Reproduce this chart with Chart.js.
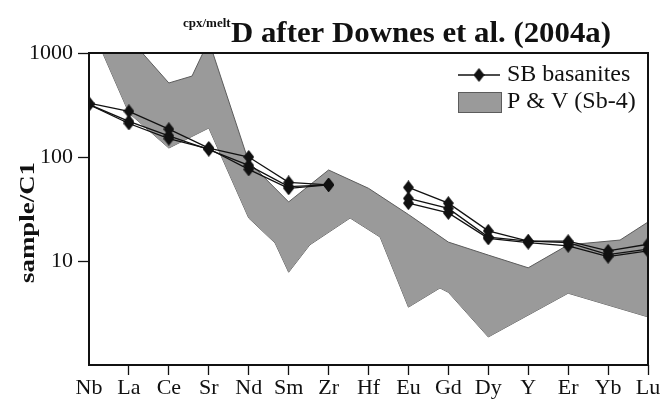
<!DOCTYPE html>
<html>
<head>
<meta charset="utf-8">
<script src="https://cdn.jsdelivr.net/npm/chart.js@4.4.1/dist/chart.umd.min.js"></script>
<style>
  html, body { margin: 0; padding: 0; background: #fff; }
  #wrap { width: 664px; height: 403px; }
</style>
</head>
<body>
<div id="wrap"><canvas id="spider"></canvas></div>
<script>
let elements = ['Nb', 'La', 'Ce', 'Sr', 'Nd', 'Sm', 'Zr', 'Hf', 'Eu', 'Gd', 'Dy', 'Y', 'Er', 'Yb', 'Lu'],
    yTicks = [10, 100, 1000],
    // SB basanites, three samples (no Hf)
    sb1 = [330, 275, 185, 122, 100, 57, 54, null, 51, 36, 19.5, 15.5, 15.5, 12.5, 14.5],
    sb2 = [320, 220, 160, 118, 83, 52, 54, null, 40, 32, 17, 15.5, 15, 11.5, 13],
    sb3 = [320, 210, 150, 120, 76, 50, 54, null, 36, 29, 16.5, 15, 14, 11, 12.5],
    // P & V (Sb-4) field outline, [position along element axis, value]
    pvTop = [[0, 2500], [1, 1400], [2, 515], [2.58, 600], [3, 1316], [4, 90], [5, 37], [6, 75], [7, 50],
             [8, 28], [9, 15.2], [10, 11.4], [11, 8.6], [12, 14.3], [13.3, 15.9], [14, 23.7]],
    pvBottom = [[0, 2000], [1, 265], [2, 122], [3, 190], [4, 25.9], [4.66, 14.9], [5, 7.8], [5.53, 14.3],
                [6.54, 25.9], [7.29, 17], [8, 3.6], [8.79, 5.5], [9, 5], [10, 1.86], [12, 4.9], [14, 2.9]];

const serif = "'Liberation Serif', 'Times New Roman', serif";
const ink = '#111';
const fieldFill = '#9a9a9a';
const fieldEdge = '#5c5c5c';

// tall diamond marker
let diamond = document.createElement('canvas');
diamond.width = 11;
diamond.height = 14;
(function () {
    let c = diamond.getContext('2d');
    c.fillStyle = ink;
    c.beginPath();
    c.moveTo(5.5, 0);
    c.lineTo(11, 7);
    c.lineTo(5.5, 14);
    c.lineTo(0, 7);
    c.closePath();
    c.fill();
})();

function seriesPoints(arr) {
    return arr.map(function (v, i) { return { x: i, y: v }; });
}
function fieldPoints(arr) {
    return arr.map(function (p) { return { x: p[0], y: p[1] }; });
}

function sbDataset(arr, label) {
    return {
        label: label,
        data: seriesPoints(arr),
        borderColor: ink,
        borderWidth: 1.3,
        pointStyle: diamond,
        pointRadius: 6,
        fill: false,
        spanGaps: false,
        tension: 0,
        order: 1
    };
}

// text squeezed/stretched along its baseline to a given length
function fitText(ctx, str, len) {
    let w = ctx.measureText(str).width;
    ctx.scale(len / w, 1);
    ctx.fillText(str, 0, 0);
}

const decorations = {
    id: 'decorations',
    afterDraw(chart) {
        const ctx = chart.ctx, a = chart.chartArea;
        ctx.save();

        // frame
        ctx.strokeStyle = ink;
        ctx.lineWidth = 2;
        ctx.strokeRect(a.left, a.top, a.right - a.left, a.bottom - a.top);

        // title with superscript
        ctx.fillStyle = ink;
        ctx.textBaseline = 'alphabetic';
        ctx.textAlign = 'left';
        ctx.font = 'bold 13px ' + serif;
        ctx.fillText('cpx/melt', 183, 27);
        ctx.font = 'bold 29px ' + serif;
        ctx.save();
        ctx.translate(231, 42);
        fitText(ctx, 'D after Downes et al. (2004a)', 380);
        ctx.restore();

        // y title
        ctx.save();
        ctx.translate(34, 283);
        ctx.rotate(-Math.PI / 2);
        ctx.textBaseline = 'alphabetic';
        ctx.font = 'bold 21px ' + serif;
        fitText(ctx, 'sample/C1', 121);
        ctx.restore();

        // legend
        const lx = a.right - 190, ly = a.top + 22;
        ctx.strokeStyle = ink;
        ctx.lineWidth = 1.3;
        ctx.beginPath();
        ctx.moveTo(lx, ly);
        ctx.lineTo(lx + 42, ly);
        ctx.stroke();
        ctx.drawImage(diamond, lx + 21 - 5.5, ly - 7);
        ctx.fillStyle = fieldFill;
        ctx.fillRect(lx, ly + 17, 44, 21);
        ctx.strokeStyle = fieldEdge;
        ctx.lineWidth = 1;
        ctx.strokeRect(lx + 0.5, ly + 17.5, 43, 20);
        ctx.fillStyle = ink;
        ctx.font = '24px ' + serif;
        ctx.textBaseline = 'middle';
        ctx.fillText(chart.data.datasets[0].label, lx + 49, ly);
        ctx.fillText(chart.data.datasets[3].label, lx + 49, ly + 27);
        ctx.restore();
    }
};

const ctx = document.getElementById('spider').getContext('2d');
const chart = new Chart(ctx, {
    type: 'line',
    data: {
        datasets: [
            sbDataset(sb1, 'SB basanites'),
            sbDataset(sb2, 'SB basanites'),
            sbDataset(sb3, 'SB basanites'),
            {
                label: 'P & V (Sb-4)',
                data: fieldPoints(pvTop),
                borderColor: fieldEdge,
                borderWidth: 1,
                backgroundColor: fieldFill,
                fill: '+1',
                pointRadius: 0,
                tension: 0,
                order: 2
            },
            {
                label: 'P & V (Sb-4) lower',
                data: fieldPoints(pvBottom),
                borderColor: fieldEdge,
                borderWidth: 1,
                fill: false,
                pointRadius: 0,
                tension: 0,
                order: 2
            }
        ]
    },
    options: {
        responsive: true,
        maintainAspectRatio: false,
        animation: false,
        devicePixelRatio: 1,
        layout: { padding: { left: 0, top: 53, right: 16, bottom: 0 } },
        plugins: {
            legend: { display: false },
            tooltip: { enabled: false }
        },
        scales: {
            x: {
                type: 'linear',
                min: 0,
                max: elements.length - 1,
                afterBuildTicks: function (scale) {
                    scale.ticks = elements.map(function (e, i) { return { value: i }; });
                },
                afterFit: function (scale) { scale.height = 38; },
                ticks: {
                    autoSkip: false,
                    maxRotation: 0,
                    padding: 0,
                    color: ink,
                    font: { family: serif, size: 22 },
                    callback: function (v) { return elements[v]; }
                },
                grid: {
                    display: true,
                    drawOnChartArea: false,
                    tickLength: 10,
                    tickWidth: 1.3,
                    tickColor: function (c) { return c.index === 0 ? 'rgba(0,0,0,0)' : ink; }
                },
                border: { display: false }
            },
            y: {
                type: 'logarithmic',
                min: 1,
                max: 1000,
                afterBuildTicks: function (scale) {
                    scale.ticks = yTicks.map(function (v) { return { value: v }; });
                },
                afterFit: function (scale) { scale.width = 89; },
                ticks: {
                    padding: 5,
                    color: ink,
                    font: { family: serif, size: 22 },
                    callback: function (v) { return String(v); }
                },
                grid: {
                    display: true,
                    drawOnChartArea: false,
                    tickLength: 11,
                    tickWidth: 1.3,
                    tickColor: ink
                },
                border: { display: false }
            }
        }
    },
    plugins: [decorations]
});
</script>
</body>
</html>
